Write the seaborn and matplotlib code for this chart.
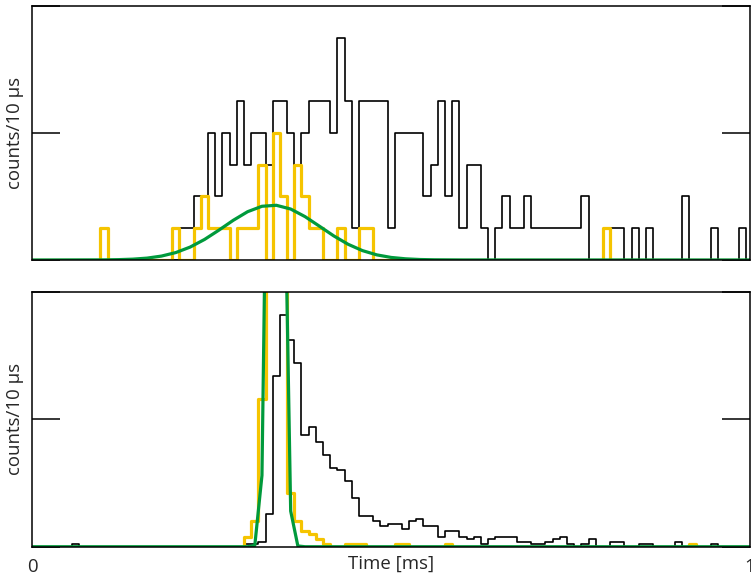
import numpy as np
import pandas as pd
import matplotlib
matplotlib.use("Agg")
import matplotlib.pyplot as plt
import seaborn as sns

sns.set_style("white")
plt.rcParams['font.family'] = ['Open Sans', 'DejaVu Sans']

# 10 us bins, centres 0 .. 1 ms
bin_ms = np.round(np.arange(101) * 0.01, 2)

# top panel counts per bin (bins 0..100)
top_black = [0, 0, 0, 0, 0, 0, 0, 0, 0, 0,
             0, 0, 0, 0, 0, 0, 0, 0, 0, 0,
             0, 1, 1, 2, 2, 4, 2, 4, 3, 5,
             3, 4, 4, 3, 5, 5, 4, 3, 4, 5,
             5, 5, 4, 7, 5, 1, 5, 5, 5, 5,
             1, 4, 4, 4, 4, 2, 3, 5, 2, 5,
             1, 3, 3, 1, 0, 1, 2, 1, 1, 2,
             1, 1, 1, 1, 1, 1, 1, 2, 0, 0,
             0, 1, 1, 0, 1, 0, 1, 0, 0, 0,
             0, 2, 0, 0, 0, 1, 0, 0, 0, 1,
             0]
top_yellow = [0, 0, 0, 0, 0, 0, 0, 0, 0, 0,
              1, 0, 0, 0, 0, 0, 0, 0, 0, 0,
              1, 0, 0, 1, 2, 1, 1, 1, 0, 1,
              1, 1, 3, 0, 4, 2, 0, 3, 2, 1,
              1, 0, 0, 1, 0, 0, 1, 1, 0, 0,
              0, 0, 0, 0, 0, 0, 0, 0, 0, 0,
              0, 0, 0, 0, 0, 0, 0, 0, 0, 0,
              0, 0, 0, 0, 0, 0, 0, 0, 0, 0,
              1, 0, 0, 0, 0, 0, 0, 0, 0, 0,
              0, 0, 0, 0, 0, 0, 0, 0, 0, 0,
              0]
# gaussian fit curve
top_fit_ms = [0.0, 0.10, 0.12, 0.14, 0.16, 0.18, 0.20, 0.22, 0.24, 0.26,
              0.28, 0.30, 0.32, 0.34, 0.36, 0.38, 0.40, 0.42, 0.44, 0.46,
              0.48, 0.50, 0.52, 0.54, 0.56, 0.60, 1.0]
top_fit = [0.0, 0.004, 0.011, 0.026, 0.059, 0.123, 0.234, 0.407, 0.647, 0.940,
           1.250, 1.521, 1.692, 1.723, 1.605, 1.366, 1.065, 0.759, 0.495, 0.295,
           0.161, 0.080, 0.037, 0.015, 0.006, 0.001, 0.0]

# bottom panel counts per bin
bot_black = [0, 0, 0, 0, 0, 0, 1, 0, 0, 0,
             0, 0, 0, 0, 0, 0, 0, 0, 0, 0,
             0, 0, 0, 0, 0, 0, 0, 0, 0, 0,
             1, 1, 2, 13, 67, 91, 81, 72, 44, 47,
             41, 36, 31, 30, 26, 19, 12, 12, 10, 8,
             9, 9, 7, 10, 11, 8, 8, 4, 6, 6,
             4, 3, 4, 1, 3, 4, 4, 4, 2, 2,
             1, 1, 2, 3, 4, 1, 0, 1, 3, 0,
             0, 2, 2, 0, 0, 1, 1, 0, 0, 0,
             2, 0, 0, 0, 0, 1, 0, 0, 0, 0,
             0]
bot_yellow = [0, 0, 0, 0, 0, 0, 0, 0, 0, 0,
              0, 0, 0, 0, 0, 0, 0, 0, 0, 0,
              0, 0, 0, 0, 0, 0, 0, 0, 0, 0,
              4, 10, 58, 230, 450, 190, 21, 10, 6, 5,
              3, 1, 0, 0, 1, 1, 1, 0, 0, 0,
              0, 1, 1, 0, 0, 0, 0, 0, 1, 0,
              0, 0, 0, 0, 0, 0, 0, 0, 0, 0,
              0, 0, 0, 0, 0, 0, 0, 0, 0, 0,
              0, 0, 0, 0, 0, 0, 0, 0, 0, 0,
              0, 0, 1, 0, 0, 0, 0, 0, 0, 0,
              0]
bot_fit = [0, 0, 0, 0, 0, 0, 0, 0, 0, 0,
           0, 0, 0, 0, 0, 0, 0, 0, 0, 0,
           0, 0, 0, 0, 0, 0, 0, 0, 0, 0,
           0, 0.5, 28, 240, 465, 175, 14, 0.3, 0, 0,
           0, 0, 0, 0, 0, 0, 0, 0, 0, 0,
           0, 0, 0, 0, 0, 0, 0, 0, 0, 0,
           0, 0, 0, 0, 0, 0, 0, 0, 0, 0,
           0, 0, 0, 0, 0, 0, 0, 0, 0, 0,
           0, 0, 0, 0, 0, 0, 0, 0, 0, 0,
           0, 0, 0, 0, 0, 0, 0, 0, 0, 0,
           0]

df = pd.DataFrame({'t': bin_ms, 'top_black': top_black, 'top_yellow': top_yellow,
                   'bot_black': bot_black, 'bot_yellow': bot_yellow, 'bot_fit': bot_fit})

yellow = '#f5c400'
green = '#009a3c'
hist_kw = dict(x='t', binwidth=0.01, binrange=(-0.005, 1.005), element='step', fill=False)

fig = plt.figure(figsize=(7.51, 5.78), dpi=100)
ax1 = fig.add_axes([0.043, 0.5502, 0.9557, 0.4394])
ax2 = fig.add_axes([0.043, 0.0541, 0.9557, 0.4407])

# top
sns.histplot(data=df, weights='top_black', color='black', linewidth=1.2, ax=ax1, **hist_kw)
sns.histplot(data=df, weights='top_yellow', color=yellow, linewidth=2.3, ax=ax1, **hist_kw)
sns.lineplot(x=top_fit_ms, y=top_fit, color=green, linewidth=2.3, ax=ax1)

# bottom
sns.histplot(data=df, weights='bot_black', color='black', linewidth=1.2, ax=ax2, **hist_kw)
sns.histplot(data=df, weights='bot_yellow', color=yellow, linewidth=2.3, ax=ax2, **hist_kw)
sns.lineplot(data=df, x='t', y='bot_fit', color=green, linewidth=2.3, ax=ax2)

for ax, ymax in [(ax1, 8), (ax2, 100)]:
    ax.set_xlim(0, 1)
    ax.set_ylim(0, ymax)
    ax.set_yticks([0, ymax / 2, ymax])
    ax.tick_params(axis='y', direction='in', length=20, width=1.1,
                   left=True, right=True, labelleft=False, colors='black')
    ax.set_ylabel('counts/10 µs', fontsize=13.4, labelpad=6)
    for s in ax.spines.values():
        s.set_color('black')
        s.set_linewidth(1.1)

ax1.set_xticks([])
ax1.set_xlabel('')
ax2.set_xticks([0, 1])
ax2.set_xticklabels(['0', '1'], fontsize=13.4)
ax2.tick_params(axis='x', length=0, pad=8)
ax2.set_xlabel('Time [ms]', fontsize=13.4)
ax2.xaxis.set_label_coords(0.5, -0.03)
ax2.xaxis.label.set_va('top')

fig.savefig('out.png', dpi=100)
